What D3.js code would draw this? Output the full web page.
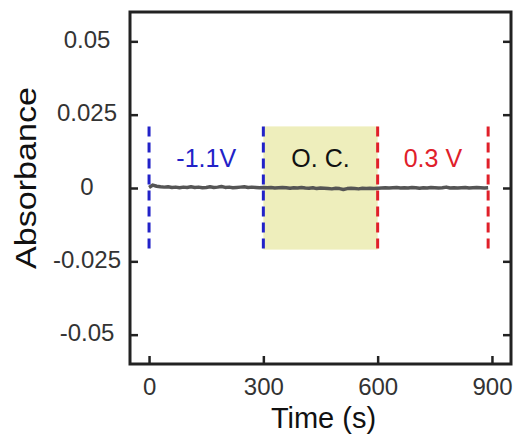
<!DOCTYPE html>
<html>
<head>
<meta charset="utf-8">
<script src="https://cdn.jsdelivr.net/npm/d3@7"></script>
<style>
  body { margin: 0; background: #fff; }
  svg text { font-family: Arial, "Liberation Sans", sans-serif; }
</style>
</head>
<body>
<div id="chart"></div>
<script>
// absorbance trace, sampled every 10 s from 0 to 890 s
const seg1 = [0.0002, 0.0010, 0.0006, 0.0004, 0.0003, 0.0004, 0.0002, 0.0003, 0.0001, 0.0003,
              0.0002, 0.0004, 0.0002, 0.0003, 0.0001, 0.0002, 0.0004, 0.0002, 0.0003, 0.0005,
              0.0002, 0.0003, 0.0001, 0.0002, 0.0003, 0.0004, 0.0002, 0.0003, 0.0002, 0.0001, 0.0002]
const seg2 = [0.0001, 0.0002, 0.0000, 0.0001, 0.0002, 0.0001, -0.0001, 0.0001, 0.0000, 0.0002,
              0.0000, -0.0001, 0.0001, -0.0002, 0.0000, -0.0001, -0.0002, -0.0003, -0.0001, -0.0002,
              -0.0005, -0.0002, -0.0001, -0.0002, -0.0003, -0.0001, -0.0002, -0.0001, -0.0002, -0.0001]
const seg3 = [0.0000, 0.0001, 0.0000, 0.0001, 0.0002, 0.0000, 0.0001, 0.0000, 0.0002, 0.0001,
              -0.0001, 0.0001, 0.0000, 0.0002, 0.0001, 0.0000, 0.0001, 0.0003, 0.0000, 0.0001,
              0.0000, 0.0001, 0.0002, 0.0000, 0.0001, 0.0002, 0.0001, 0.0000, 0.0001]
const absorbance = seg1.concat(seg2, seg3)
const times = absorbance.map((v, i) => i * 10)

const xTicks = [0, 300, 600, 900]
const yTicks = [-0.05, -0.025, 0, 0.025, 0.05]
const yTickLabels = ["-0.05", "-0.025", "0", "0.025", "0.05"]

// potential steps: dashed markers and the open-circuit band
const markers = [
  { t: 0, color: "#2222c8" },
  { t: 300, color: "#2222c8" },
  { t: 600, color: "#e0202a" },
  { t: 890, color: "#e0202a" }
]
const markerSpan = [-0.021, 0.021]
const band = [300, 600]
const stepLabels = [
  { text: "-1.1V", t: 150, color: "#2222c8" },
  { text: "O. C.", t: 450, color: "#111" },
  { text: "0.3 V", t: 745, color: "#e0202a" }
]

const width = 516
const height = 435
const plotLeft = 130, plotRight = 511, plotTop = 12, plotBottom = 364

const svg = d3.select("#chart").append("svg")
    .attr("width", width)
    .attr("height", height)

const x = d3.scaleLinear().domain([-50, 950]).range([plotLeft, plotRight])
const y = d3.scaleLinear().domain([-0.06, 0.06]).range([plotBottom, plotTop])

// shaded O.C. region
svg.append("rect")
    .attr("x", x(band[0]))
    .attr("y", y(markerSpan[1]))
    .attr("width", x(band[1]) - x(band[0]))
    .attr("height", y(markerSpan[0]) - y(markerSpan[1]))
    .attr("fill", "#eeeebc")

// trace
const line = d3.line()
    .x((d, i) => x(times[i]))
    .y(d => y(d))
svg.append("path")
    .datum(absorbance)
    .attr("fill", "none")
    .attr("stroke", "#555")
    .attr("stroke-width", 3.5)
    .attr("stroke-linejoin", "round")
    .attr("d", line)

svg.append("g").selectAll("line")
    .data(markers)
    .enter().append("line")
    .attr("x1", d => x(d.t))
    .attr("x2", d => x(d.t))
    .attr("y1", y(markerSpan[1]))
    .attr("y2", y(markerSpan[0]))
    .attr("stroke", d => d.color)
    .attr("stroke-width", 3)
    .attr("stroke-dasharray", "10,6")

svg.append("g").selectAll("text")
    .data(stepLabels)
    .enter().append("text")
    .attr("x", d => x(d.t))
    .attr("y", 167)
    .attr("text-anchor", "middle")
    .attr("font-size", 25)
    .attr("fill", d => d.color)
    .text(d => d.text)

// axes, ticks pointing inward
const yAxis = svg.append("g")
    .attr("transform", `translate(${plotLeft},0)`)
    .call(d3.axisLeft(y).tickValues(yTicks).tickFormat((d, i) => yTickLabels[i])
        .tickSize(-8).tickSizeOuter(0).tickPadding(43))
yAxis.selectAll("text").attr("text-anchor", "middle").attr("dy", "0.25em")

svg.append("g")
    .attr("transform", `translate(${plotRight},0)`)
    .call(d3.axisRight(y).tickValues(yTicks).tickFormat("").tickSize(-8).tickSizeOuter(0))

svg.append("g")
    .attr("transform", `translate(0,${plotBottom})`)
    .call(d3.axisBottom(x).tickValues(xTicks).tickSize(-8).tickSizeOuter(0).tickPadding(14))

svg.selectAll(".domain").remove()
svg.selectAll(".tick line").attr("stroke", "#222").attr("stroke-width", 2.5)
svg.selectAll(".tick text").attr("font-size", 24).attr("fill", "#333")
    .style("font-family", "Arial, 'Liberation Sans', sans-serif")

// frame
svg.append("rect")
    .attr("x", plotLeft)
    .attr("y", plotTop)
    .attr("width", plotRight - plotLeft)
    .attr("height", plotBottom - plotTop)
    .attr("fill", "none")
    .attr("stroke", "#222")
    .attr("stroke-width", 3)

svg.append("text")
    .attr("x", (plotLeft + plotRight) / 2 + 3)
    .attr("y", 428)
    .attr("text-anchor", "middle")
    .attr("font-size", 29)
    .attr("fill", "#111")
    .text("Time (s)")

svg.append("text")
    .attr("transform", "translate(36,178) rotate(-90)")
    .attr("text-anchor", "middle")
    .attr("font-size", 29)
    .attr("textLength", 182)
    .attr("lengthAdjust", "spacingAndGlyphs")
    .attr("fill", "#111")
    .text("Absorbance")
</script>
</body>
</html>
